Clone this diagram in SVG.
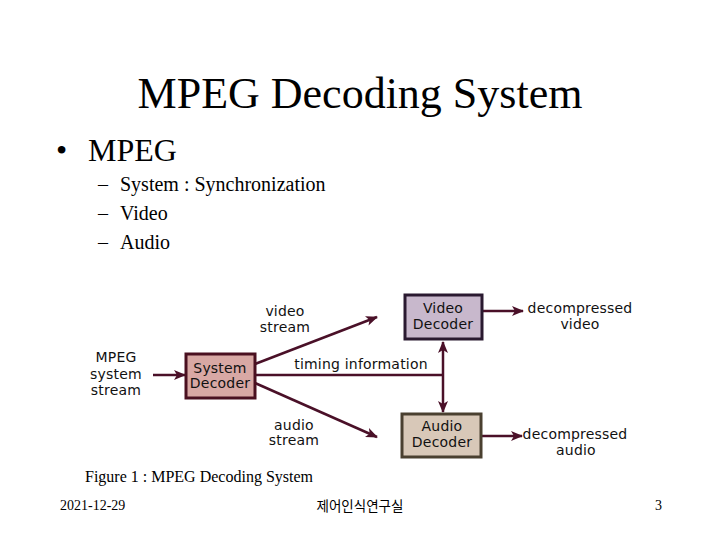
<svg xmlns="http://www.w3.org/2000/svg" width="720" height="540" viewBox="0 0 720 540">
<style>
.serif{font-family:"Liberation Serif","Times New Roman",serif;fill:#000}
.sans{font-family:"DejaVu Sans","Liberation Sans",sans-serif;font-size:14px;letter-spacing:0.2px;fill:#111;text-anchor:middle}
.conn{stroke:#4a1028;stroke-width:2.5;fill:none}
.box{stroke-width:3}
</style>
<defs>
<marker id="ah" viewBox="0 0 12 10" refX="11" refY="5" markerWidth="12" markerHeight="10" markerUnits="userSpaceOnUse" orient="auto">
<path d="M0,0 L12,5 L0,10 L3,5 Z" fill="#4a1028"/>
</marker>
<marker id="ahb" viewBox="0 0 12 10" refX="11" refY="5" markerWidth="12" markerHeight="10" markerUnits="userSpaceOnUse" orient="auto-start-reverse">
<path d="M0,0 L12,5 L0,10 L3,5 Z" fill="#4a1028"/>
</marker>
</defs>
<rect width="720" height="540" fill="#fff"/>
<text class="serif" x="360" y="108" font-size="44" text-anchor="middle">MPEG Decoding System</text>
<text class="serif" x="56" y="161" font-size="32">•</text>
<text class="serif" x="88" y="161" font-size="32">MPEG</text>
<g class="serif" font-size="20">
<text x="98" y="191">–</text><text x="120" y="191">System : Synchronization</text>
<text x="98" y="220">–</text><text x="120" y="220">Video</text>
<text x="98" y="249">–</text><text x="120" y="249">Audio</text>
</g>
<g id="connectors">
<line class="conn" x1="153" y1="375" x2="185" y2="375" marker-end="url(#ah)"/>
<line class="conn" x1="255" y1="364" x2="377" y2="317" marker-end="url(#ah)"/>
<line class="conn" x1="255" y1="383" x2="377" y2="437" marker-end="url(#ah)"/>
<line class="conn" x1="255" y1="375" x2="443" y2="375"/>
<line class="conn" x1="443" y1="342" x2="443" y2="412" marker-start="url(#ahb)" marker-end="url(#ahb)"/>
<line class="conn" x1="482" y1="311" x2="523" y2="311" stroke="#2a1a30" marker-end="url(#ah)"/>
<line class="conn" x1="481" y1="436" x2="522" y2="436" stroke="#4a4030" marker-end="url(#ah)"/>
</g>
<g id="system-decoder">
<rect class="box" x="186" y="354" width="69" height="44" fill="#d8a8a4" stroke="#4a1020"/>
<text class="sans" x="220" y="373">System</text>
<text class="sans" x="220" y="388">Decoder</text>
</g>
<g id="video-decoder">
<rect class="box" x="405" y="295" width="77" height="44" fill="#c8b8cc" stroke="#2a1a30"/>
<text class="sans" x="443" y="313">Video</text>
<text class="sans" x="443" y="329">Decoder</text>
</g>
<g id="audio-decoder">
<rect class="box" x="402" y="414" width="79" height="43" fill="#d8c8b8" stroke="#4a4030"/>
<text class="sans" x="442" y="431">Audio</text>
<text class="sans" x="442" y="447">Decoder</text>
</g>
<g id="labels">
<text class="sans" x="116" y="362">MPEG</text>
<text class="sans" x="116" y="379">system</text>
<text class="sans" x="116" y="395">stream</text>
<text class="sans" x="285" y="316">video</text>
<text class="sans" x="285" y="332">stream</text>
<text class="sans" x="361" y="369">timing information</text>
<text class="sans" x="294" y="430">audio</text>
<text class="sans" x="294" y="445">stream</text>
<text class="sans" x="580" y="313">decompressed</text>
<text class="sans" x="580" y="329">video</text>
<text class="sans" x="575" y="439">decompressed</text>
<text class="sans" x="576" y="455">audio</text>
</g>
<text class="serif" x="85" y="482" font-size="16">Figure 1 : MPEG Decoding System</text>
<text class="serif" x="60" y="510" font-size="14">2021-12-29</text>
<text x="360" y="511" font-size="13.5" text-anchor="middle" font-family="'Noto Sans CJK KR',sans-serif" fill="#000">제어인식연구실</text>
<text class="serif" x="655" y="510" font-size="14">3</text>
</svg>
